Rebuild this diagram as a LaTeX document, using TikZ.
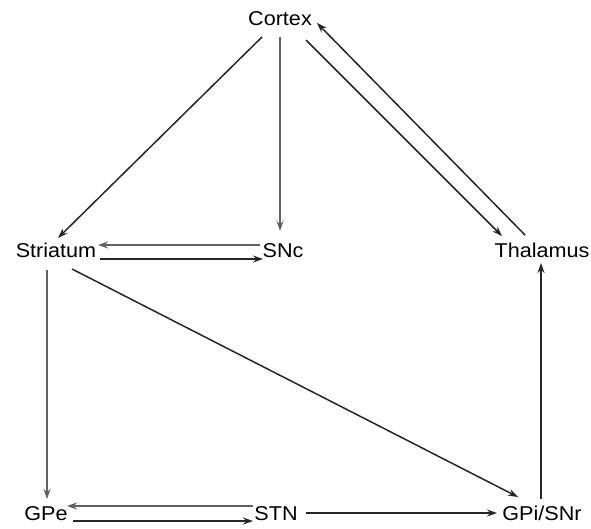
\documentclass[tikz,border=0pt]{standalone}
\usepackage{fontspec}
\setmainfont{Liberation Sans}
\usetikzlibrary{arrows.meta}
\begin{document}
\begin{tikzpicture}[x=1pt,y=-1pt,
  lbl/.style={anchor=base,inner sep=0pt,font=\fontsize{20}{24}\selectfont,xscale=1.08,transform shape},
  exc/.style={draw=black!85,line width=1.5pt,-{Stealth[length=10pt,width=7pt]}},
  inh/.style={draw=black!62,line width=2.6pt,-{Stealth[length=10pt,width=7pt]}}]
\useasboundingbox (0,0) rectangle (591,529);
\node[lbl] (cortex) at (280,26) {Cortex};
\node[lbl] (striatum) at (56,258) {Striatum};
\node[lbl] (snc) at (283,258) {SNc};
\node[lbl] (thalamus) at (542,257) {Thalamus};
\node[lbl] (gpe) at (46,520) {GPe};
\node[lbl] (stn) at (276,520) {STN};
\node[lbl] (gpi) at (542,520) {GPi/SNr};
\draw[exc] ([shift={(-18,11)}]cortex.base) -- ([shift={(2,-20)}]striatum.base);
\draw[inh] ([shift={(0,11)}]cortex.base) -- ([shift={(-3,-27)}]snc.base);
\draw[exc] ([shift={(26,14)}]cortex.base) -- ([shift={(-40,-21)}]thalamus.base);
\draw[exc] ([shift={(-17,-22)}]thalamus.base) -- ([shift={(37,-3)}]cortex.base);
\draw[inh] ([shift={(-23,-13)}]snc.base) -- ([shift={(42,-13)}]striatum.base);
\draw[exc] ([shift={(44,1)}]striatum.base) -- ([shift={(-20,1)}]snc.base);
\draw[inh] ([shift={(-9,12)}]striatum.base) -- ([shift={(1,-21)}]gpe.base);
\draw[exc] ([shift={(16,11)}]striatum.base) -- ([shift={(-24,-23)}]gpi.base);
\draw[exc] ([shift={(-1,-21)}]gpi.base) -- ([shift={(-1,6)}]thalamus.base);
\draw[inh] ([shift={(-23,-14)}]stn.base) -- ([shift={(21,-14)}]gpe.base);
\draw[exc] ([shift={(27,1)}]gpe.base) -- ([shift={(-23,1)}]stn.base);
\draw[exc] ([shift={(30,-7)}]stn.base) -- ([shift={(-45,-7)}]gpi.base);
\end{tikzpicture}
\end{document}
